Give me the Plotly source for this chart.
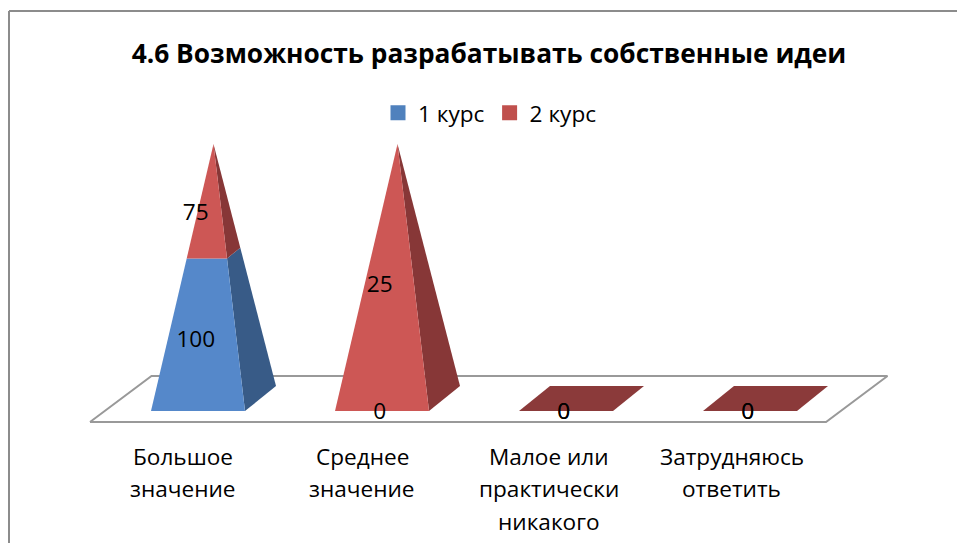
import plotly.graph_objects as go

# ---- data ----
TITLE = "4.6 Возможность разрабатывать собственные идеи"
CATEGORY_LINES = [
    ["Большое", "значение"],
    ["Среднее", "значение"],
    ["Малое или", "практически", "никакого"],
    ["Затрудняюсь", "ответить"],
]
SERIES_NAMES = ["1 курс", "2 курс"]
COURSE_1 = [100, 0, 0, 0]
COURSE_2 = [75, 25, 0, 0]

# ---- style ----
FRONT = ["#5588CA", "#CD5755"]
SIDE = ["#385B87", "#873737"]
LEGEND = ["#4F81BD", "#C0504D"]
FLAT = "#8B3A3A"
GRID = "#999999"
FONT = "Open Sans"
TEXT_SIZE = 22.6

# ---- layout geometry (axis units: 1 category = 184 px, 100 % = 267 px) ----
W, H = 957, 543
PX_X, PX_Y = 184.0, 2.67
X0_PX, Y0_PX = 198.0, 411.0     # first pyramid front centre / baseline
x_range = [-X0_PX / PX_X, (W - X0_PX) / PX_X]
y_range = [(Y0_PX - H) / PX_Y, Y0_PX / PX_Y]
HALF = 47.0 / PX_X
DX, DY = 31.0 / PX_X, 25.0 / PX_Y
APEX_DX, APEX_Y = DX / 2, 100.0
LABEL_OFFSET_PX = [-15.5, -20.0, -17.5, -18.5]
LABEL_DROP = 2.5 / PX_Y


def corners(i):
    return [(i - HALF, 0.0), (i + HALF, 0.0), (i + HALF + DX, DY), (i - HALF + DX, DY)]


def lerp(p, i, t):
    ax, ay = i + APEX_DX, APEX_Y
    return (p[0] + (ax - p[0]) * t, p[1] + (ay - p[1]) * t)


def poly(pts, color):
    xs = [p[0] for p in pts] + [pts[0][0]]
    ys = [p[1] for p in pts] + [pts[0][1]]
    return go.Scatter(x=xs, y=ys, mode="lines", fill="toself", fillcolor=color,
                      line=dict(width=0, color=color), showlegend=False, hoverinfo="skip")


fig = go.Figure()

# floor
fx0, fx1 = -108.0 / PX_X, 628.0 / PX_X
fy = -11.0 / PX_Y
bx, by = 61.5 / PX_X, 46.0 / PX_Y
fig.add_trace(go.Scatter(x=[fx0, fx1, fx1 + bx, fx0 + bx, fx0], y=[fy, fy, fy + by, fy + by, fy],
                         mode="lines", line=dict(color=GRID, width=2), fill="toself",
                         fillcolor="white", showlegend=False, hoverinfo="skip"))

# pyramids
label_x, label_y, label_t = [], [], []
for i, vals in enumerate(zip(COURSE_1, COURSE_2)):
    total = sum(vals)
    c = corners(i)
    if total == 0:
        fig.add_trace(poly(c, FLAT))
        for v in vals:
            label_x.append(i - 0.012); label_y.append(-LABEL_DROP); label_t.append(str(v))
        continue
    acc = 0.0
    for s, v in enumerate(vals):
        t0 = acc / total
        t1 = (acc + v) / total
        if v > 0:
            fig.add_trace(poly([lerp(c[1], i, t0), lerp(c[2], i, t0), lerp(c[2], i, t1), lerp(c[1], i, t1)], SIDE[s]))
            fig.add_trace(poly([lerp(c[0], i, t0), lerp(c[1], i, t0), lerp(c[1], i, t1), lerp(c[0], i, t1)], FRONT[s]))
        label_x.append(i - 0.012)
        label_y.append((t0 + t1) / 2 * 100 * 0.95 - LABEL_DROP)
        label_t.append(str(v))
        acc += v

fig.add_trace(go.Scatter(x=label_x, y=label_y, text=label_t, mode="text",
                         textposition="middle center",
                         textfont=dict(family=FONT, size=TEXT_SIZE, color="black"),
                         showlegend=False, hoverinfo="skip"))

# legend entries
for name, col in zip(SERIES_NAMES, LEGEND):
    fig.add_trace(go.Scatter(x=[None], y=[None], name=name, mode="markers",
                             marker=dict(symbol="square", size=15, color=col)))

# category labels, one annotation per text line
LINE_STEP = 32.5 / PX_Y
annos = []
for i, lines in enumerate(CATEGORY_LINES):
    for k, line in enumerate(lines):
        annos.append(dict(x=i + LABEL_OFFSET_PX[i] / PX_X, y=(Y0_PX - 456) / PX_Y - k * LINE_STEP, text=line,
                          showarrow=False, xanchor="center", yanchor="middle",
                          font=dict(family=FONT, size=TEXT_SIZE, color="black")))

fig.update_layout(
    width=W, height=H, autosize=False,
    margin=dict(l=0, r=0, t=0, b=0),
    paper_bgcolor="white", plot_bgcolor="white",
    xaxis=dict(range=x_range, visible=False, fixedrange=True),
    yaxis=dict(range=y_range, visible=False, fixedrange=True),
    title=dict(text=TITLE, x=489 / W, xanchor="center", y=1 - 54 / H, yanchor="middle",
               font=dict(family=FONT, size=26.3, color="black", weight="bold")),
    legend=dict(orientation="h", x=378 / W, xanchor="left", y=1 - 113 / H, yanchor="middle",
                font=dict(family=FONT, size=TEXT_SIZE, color="black"), bgcolor="rgba(0,0,0,0)"),
    annotations=annos,
    shapes=[dict(type="line", xref="paper", yref="paper", x0=9 / W, x1=9 / W, y0=0, y1=1 - 11 / H,
                 line=dict(color="#8C8C8C", width=2)),
            dict(type="line", xref="paper", yref="paper", x0=9 / W, x1=1, y0=1 - 11 / H, y1=1 - 11 / H,
                 line=dict(color="#8C8C8C", width=2))],
)
fig.write_html("out.html", config=dict(displayModeBar=False),
               post_script="document.body.style.margin='0';document.documentElement.style.overflow='hidden';")
